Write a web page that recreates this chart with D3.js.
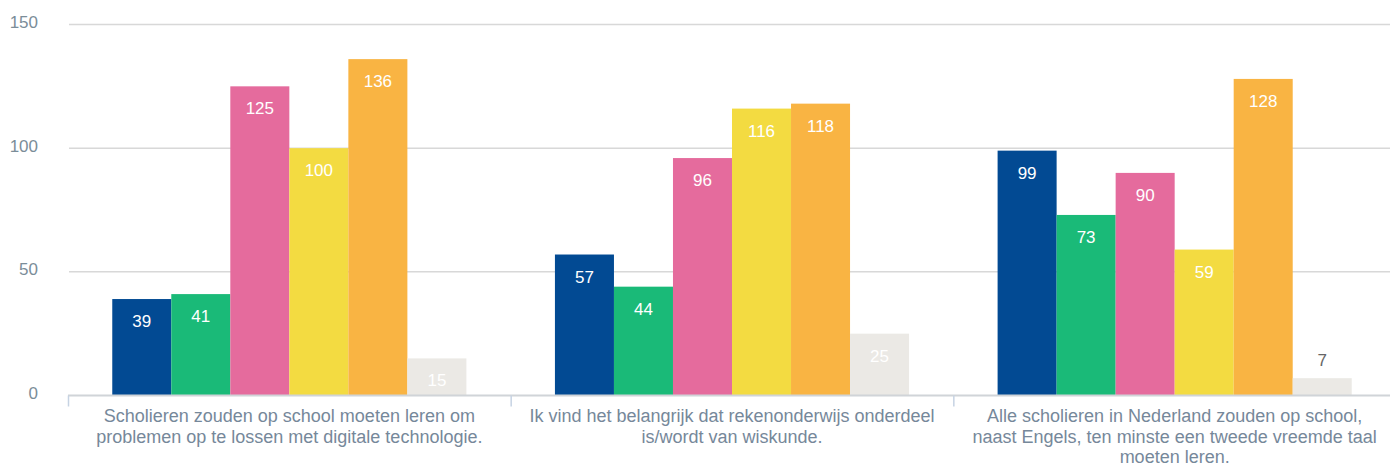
<!DOCTYPE html>
<html>
<head>
<meta charset="utf-8">
<script src="https://cdn.jsdelivr.net/npm/d3@7"></script>
<style>
  body { margin: 0; background: #fff; }
  svg { font-family: "Liberation Sans", Arial, Helvetica, sans-serif; }
</style>
</head>
<body>
<div id="chart"></div>
<script>
// Chart data
var categories = [
  "Scholieren zouden op school moeten leren om problemen op te lossen met digitale technologie.",
  "Ik vind het belangrijk dat rekenonderwijs onderdeel is/wordt van wiskunde.",
  "Alle scholieren in Nederland zouden op school, naast Engels, ten minste een tweede vreemde taal moeten leren."
];
var seriesNames = ["s1", "s2", "s3", "s4", "s5", "s6"];
var seriesColors = ["#024a93", "#1aba78", "#e56b9d", "#f3db41", "#f9b443", "#ebe9e5"];
var values = [
  [39, 41, 125, 100, 136, 15],
  [57, 44, 96, 116, 118, 25],
  [99, 73, 90, 59, 128, 7]
];
var yTicks = [0, 50, 100, 150];

var width = 1390, height = 466;
var plotLeft = 68, plotRight = 1396, plotTop = 24.5, plotBottom = 395.5;

var svg = d3.select("#chart").append("svg")
  .attr("width", width)
  .attr("height", height);

var x = d3.scaleBand().domain(categories).range([plotLeft, plotRight]);
// bars fill about 80% of each group
var xInner = d3.scaleBand().domain(seriesNames)
  .range([x.bandwidth() * 0.1, x.bandwidth() * 0.9]);
var y = d3.scaleLinear().domain([0, 150]).range([plotBottom, plotTop]);

// gridlines
svg.append("g").selectAll("line")
  .data(yTicks.filter(function(d) { return d > 0; }))
  .enter().append("line")
    .attr("x1", plotLeft + 1).attr("x2", width)
    .attr("y1", function(d) { return y(d); })
    .attr("y2", function(d) { return y(d); })
    .attr("stroke", "#d8d8d8")
    .attr("stroke-width", 1.5);

// y labels
svg.append("g").selectAll("text")
  .data(yTicks)
  .enter().append("text")
    .attr("x", 38)
    .attr("y", function(d) { return y(d) + 3.5; })
    .attr("text-anchor", "end")
    .attr("font-size", 17)
    .attr("fill", "#7b8d99")
    .text(function(d) { return d; });

// bars
var groups = svg.append("g").selectAll("g")
  .data(values)
  .enter().append("g")
    .attr("transform", function(d, i) { return "translate(" + x(categories[i]) + ",0)"; });

groups.selectAll("rect")
  .data(function(d) { return d; })
  .enter().append("rect")
    .attr("x", function(d, j) { return xInner(seriesNames[j]); })
    .attr("width", xInner.bandwidth())
    .attr("y", function(d) { return y(d); })
    .attr("height", function(d) { return plotBottom - y(d); })
    .attr("fill", function(d, j) { return seriesColors[j]; });

// value labels, inside the bar unless the bar is too short
groups.selectAll("text")
  .data(function(d) { return d; })
  .enter().append("text")
    .attr("x", function(d, j) { return xInner(seriesNames[j]) + xInner.bandwidth() / 2; })
    .attr("y", function(d) {
      return d < 10 ? y(d) - 12 : y(d) + 28;
    })
    .attr("text-anchor", "middle")
    .attr("font-size", 17)
    .attr("fill", function(d) { return d < 10 ? "#666666" : "#ffffff"; })
    .text(function(d) { return d; });

// x axis line and ticks
svg.append("line")
  .attr("x1", plotLeft).attr("x2", width)
  .attr("y1", plotBottom).attr("y2", plotBottom)
  .attr("stroke", "#d0d4d8").attr("stroke-width", 2);

svg.append("g").selectAll("line")
  .data(d3.range(categories.length + 1))
  .enter().append("line")
    .attr("x1", function(i) { return plotLeft + i * x.step() + 0.5; })
    .attr("x2", function(i) { return plotLeft + i * x.step() + 0.5; })
    .attr("y1", plotBottom).attr("y2", plotBottom + 11)
    .attr("stroke", "#c6d3e3").attr("stroke-width", 1.5);

// category labels, wrapped
svg.append("g").selectAll("text")
  .data(categories)
  .enter().append("text")
    .attr("x", function(d) { return x(d) + x.bandwidth() / 2; })
    .attr("y", 422)
    .attr("text-anchor", "middle")
    .attr("font-size", 18)
    .attr("fill", "#76889a")
    .each(function(d) { wrap(d3.select(this), d, 422); });

function wrap(text, str, maxW) {
  var words = str.split(" ");
  var line = [];
  var cx = text.attr("x");
  var tspan = text.append("tspan").attr("x", cx).attr("dy", 0);
  words.forEach(function(w) {
    line.push(w);
    tspan.text(line.join(" "));
    if (tspan.node().getComputedTextLength() > maxW && line.length > 1) {
      line.pop();
      tspan.text(line.join(" "));
      line = [w];
      tspan = text.append("tspan").attr("x", cx).attr("dy", 20.5).text(w);
    }
  });
}
</script>
</body>
</html>
